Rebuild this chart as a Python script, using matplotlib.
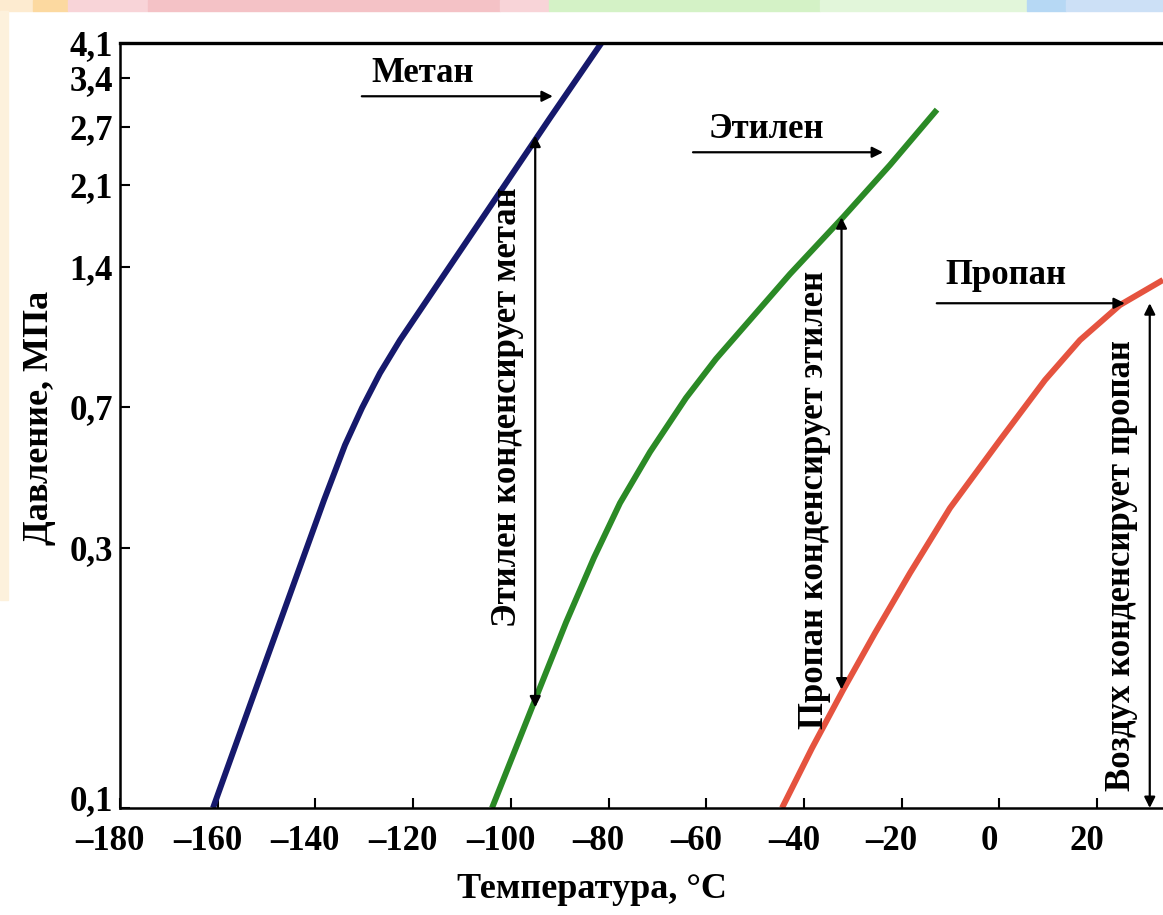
import numpy as np
import matplotlib
matplotlib.use("Agg")
import matplotlib.pyplot as plt
from matplotlib.patches import Rectangle
from matplotlib.transforms import ScaledTranslation

# vapour pressure curves (T in degC, P in MPa)
methane_t = [-160.96, -153.39, -145.61, -138.24, -133.94, -130.46, -126.78,
             -122.68, -112.45, -102.21, -91.98, -81.45]
methane_p = [0.10, 0.1545, 0.241, 0.400, 0.557, 0.696, 0.828,
             0.975, 1.407, 2.028, 2.817, 4.10]

ethylene_t = [-103.85, -95.46, -88.70, -82.97, -77.65, -71.51, -64.14,
              -58.00, -51.04, -42.85, -32.00, -22.38, -12.75]
ethylene_p = [0.10, 0.1545, 0.219, 0.288, 0.393, 0.534, 0.732,
              0.888, 1.077, 1.352, 1.79, 2.29, 2.93]

propane_t = [-44.48, -38.34, -31.99, -25.44, -18.27, -10.09, 0.15,
             9.36, 16.52, 24.71, 33.51]
propane_p = [0.10, 0.1288, 0.1646, 0.2095, 0.270, 0.3815, 0.574,
             0.800, 0.975, 1.160, 1.313]

x_ticks = [-180, -160, -140, -120, -100, -80, -60, -40, -20, 0, 20]
y_ticks = [0.1, 0.3, 0.7, 1.4, 2.1, 2.7, 3.4, 4.1]
y_tick_labels = ["0,1", "0,3", "0,7", "1,4", "2,1", "2,7", "3,4", "4,1"]

# the printed pressure axis is a hand-made, roughly logarithmic scale;
# relative height of each tick on it
y_tick_height = np.array([0, 260, 401, 541, 623, 681, 730, 765]) / 765.0
log_ticks = np.log(y_ticks)


def y_forward(v):
    v = np.clip(np.asarray(v, dtype=float), 1e-9, None)
    return np.interp(np.log(v), log_ticks, y_tick_height)


def y_inverse(u):
    return np.exp(np.interp(u, y_tick_height, log_ticks))


plt.rcParams["font.family"] = "Liberation Serif"
plt.rcParams["font.weight"] = "bold"

fig = plt.figure(figsize=(11.63, 9.15), dpi=100)

# scanner / page artefacts along the top and left edge
W, H = 1163.0, 915.0
strip = [(0, 33, "#fdebd0"), (33, 68, "#fcd9a0"), (68, 148, "#f8d4d8"),
         (148, 500, "#f4c2c6"), (500, 549, "#f8d4d8"), (549, 820, "#d4f2c6"),
         (820, 1027, "#e2f6da"), (1027, 1066, "#b6d8f4"), (1066, 1163, "#cce0f6")]
for x0, x1, c in strip:
    fig.patches.append(Rectangle((x0 / W, 1 - 11 / H), (x1 - x0) / W, 11 / H,
                                 transform=fig.transFigure, color=c, zorder=0))
fig.patches.append(Rectangle((0, 1 - 600 / H), 8 / W, 589 / H,
                             transform=fig.transFigure, color="#fdf1dc", zorder=0))

ax_w = 220 * (977.0 / 200) / W
ax = fig.add_axes([120 / W, 1 - 808 / H, ax_w, (808 - 43) / H])
ax.set_facecolor("none")

ax.set_yscale("function", functions=(y_forward, y_inverse))
ax.set_xlim(-180, 40)
ax.set_ylim(0.1, 4.1)

lw = 4.3
ax.plot(methane_t, methane_p, color="#16196c", lw=lw, solid_capstyle="butt",
        solid_joinstyle="round")
ax.plot(ethylene_t, ethylene_p, color="#2b8a26", lw=lw, solid_capstyle="butt",
        solid_joinstyle="round")
ax.plot(propane_t, propane_p, color="#e5533f", lw=lw, solid_capstyle="butt",
        solid_joinstyle="round")

ax.set_xticks(x_ticks)
ax.set_xticklabels(["\u2013" + str(-t) if t < 0 else str(t) for t in x_ticks])
ax.set_yticks(y_ticks)
ax.set_yticklabels(y_tick_labels)
ax.minorticks_off()
ax.tick_params(direction="in", length=7, width=1.5, labelsize=25)
ax.tick_params(axis="x", pad=12)
ax.tick_params(axis="y", pad=5)
for lbl in ax.get_xticklabels():
    lbl.set_transform(lbl.get_transform() +
                      ScaledTranslation(-10 / 100, 0, fig.dpi_scale_trans))
# the lowest pressure label sits a little above its tick in the original
low = ax.get_yticklabels()[0]
low.set_transform(low.get_transform() +
                  ScaledTranslation(0, 10 / 100, fig.dpi_scale_trans))

for side in ["left", "bottom", "top"]:
    ax.spines[side].set_linewidth(1.8)
ax.spines["top"].set_linewidth(2.4)
ax.spines["right"].set_visible(False)

ax.set_xlabel("Температура, °C", fontsize=26, fontweight="bold")
ax.xaxis.set_label_coords(0.439, -0.085)
ax.set_ylabel("Давление, МПа", fontsize=26, fontweight="bold")
ax.yaxis.set_label_coords(-0.060, 0.51)


def arrow(start, end, style="-|>"):
    ax.annotate("", xy=end, xytext=start,
                arrowprops=dict(arrowstyle=style, color="black", lw=1.6,
                                mutation_scale=16, shrinkA=0, shrinkB=0))


fs = 25
# labels with horizontal arrows pointing at the curves
ax.text(-118.0, 3.49, "Метан", fontsize=fs, fontweight="bold", ha="center", va="center")
arrow((-130.5, 3.12), (-91.4, 3.12))
ax.text(-47.6, 2.67, "Этилен", fontsize=fs, fontweight="bold", ha="center", va="center")
arrow((-62.7, 2.42), (-23.8, 2.42))
ax.text(1.4, 1.345, "Пропан", fontsize=fs, fontweight="bold", ha="center", va="center")
arrow((-12.8, 1.17), (25.7, 1.17))

# vertical condensing ranges
arrow((-95.0, 0.153), (-95.0, 2.60), "<|-|>")
ax.text(-100.6, 0.70, "Этилен конденсирует метан", fontsize=fs, fontweight="bold",
        rotation=90, ha="center", va="center")
arrow((-32.3, 0.165), (-32.3, 1.79), "<|-|>")
ax.text(-37.9, 0.40, "Пропан конденсирует этилен", fontsize=fs, fontweight="bold",
        rotation=90, ha="center", va="center")
arrow((30.8, 0.1), (30.8, 1.17), "<|-|>")
ax.text(25.0, 0.279, "Воздух конденсирует пропан", fontsize=fs, fontweight="bold",
        rotation=90, ha="center", va="center")

fig.savefig("out.png", dpi=100)
